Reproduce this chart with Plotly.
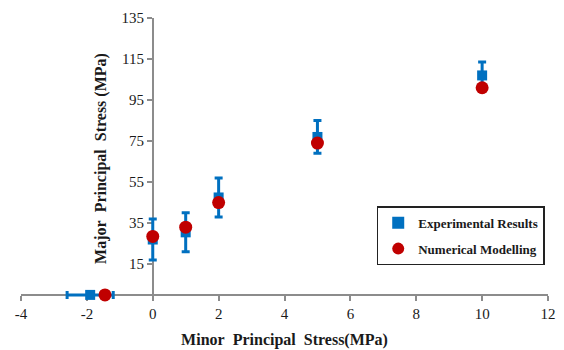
import plotly.graph_objects as go

# Experimental results
exp_x = [-1.9, 0, 1, 2, 5, 10]
exp_y = [0, 27, 30.5, 47.5, 77, 107]
exp_yerr = [0, 10, 9.5, 9.5, 8, 6.5]
exp_xerr = [0.7, 0, 0, 0, 0, 0]

# Numerical modelling
num_x = [-1.45, 0, 1, 2, 5, 10]
num_y = [0, 28.5, 33, 45, 74, 101]

x_ticks = [-4, -2, 0, 2, 4, 6, 8, 10, 12]
y_ticks = [15, 35, 55, 75, 95, 115, 135]

Y_MIN, Y_MAX = -2, 135
X_MIN, X_MAX = -4, 12

BLUE = "#0070C0"
RED = "#C00000"
AXIS = "#8C8C8C"
FONT = "Liberation Serif"
TXT = "#1a1a1a"

fig = go.Figure()
fig.add_trace(go.Scatter(
    x=exp_x, y=exp_y, mode="markers", name="<b>Experimental\u00a0Results</b>",
    legendgroup="a",
    marker=dict(symbol="square", size=10, color=BLUE),
    error_y=dict(type="data", array=exp_yerr, color=BLUE, thickness=3, width=4),
    error_x=dict(type="data", array=exp_xerr, color=BLUE, thickness=3, width=4),
    cliponaxis=False,
))
fig.add_trace(go.Scatter(
    x=num_x, y=num_y, mode="markers", name="<b>Numerical\u00a0Modelling</b>",
    legendgroup="b",
    marker=dict(symbol="circle", size=13, color=RED),
    cliponaxis=False,
))

fig.update_layout(
    width=564, height=350,
    margin=dict(l=21, r=16, t=18, b=51),
    paper_bgcolor="white", plot_bgcolor="white",
    font=dict(family=FONT, size=13, color=TXT),
    showlegend=True,
    legend=dict(
        x=0.675, y=0.33, xanchor="left", yanchor="top",
        bordercolor="#222", borderwidth=1.5, bgcolor="white",
        font=dict(family=FONT, size=13, color=TXT),
        itemsizing="constant", tracegroupgap=6, itemwidth=30,
    ),
    xaxis=dict(
        range=[X_MIN, X_MAX], tickvals=x_ticks, ticktext=[str(v) for v in x_ticks],
        anchor="free", position=(0 - Y_MIN) / (Y_MAX - Y_MIN),
        automargin=False,
        showgrid=False, zeroline=False, showline=True, linecolor=AXIS, linewidth=1.5,
        ticks="outside", ticklen=5, tickcolor=AXIS, tickwidth=1.5, layer="below traces",
        tickfont=dict(family=FONT, size=15, color=TXT),
        title=dict(text="<b>Minor\u00a0\u00a0Principal\u00a0\u00a0Stress(MPa)</b>",
                   font=dict(family=FONT, size=16, color=TXT), standoff=12),
    ),
    yaxis=dict(
        range=[Y_MIN, Y_MAX], tickvals=y_ticks, ticktext=[str(v) for v in y_ticks],
        anchor="free", position=(0 - X_MIN) / (X_MAX - X_MIN),
        layer="below traces", automargin=False,
        showgrid=False, zeroline=False, showline=True, linecolor=AXIS, linewidth=1.5,
        ticks="outside", ticklen=5, tickcolor=AXIS, tickwidth=1.5,
        tickfont=dict(family=FONT, size=15, color=TXT),
        title=dict(text="<b>Major\u00a0\u00a0Principal\u00a0\u00a0Stress\u00a0(MPa)</b>",
                   font=dict(family=FONT, size=16, color=TXT), standoff=10),
    ),
)

fig.write_html("out.html")
